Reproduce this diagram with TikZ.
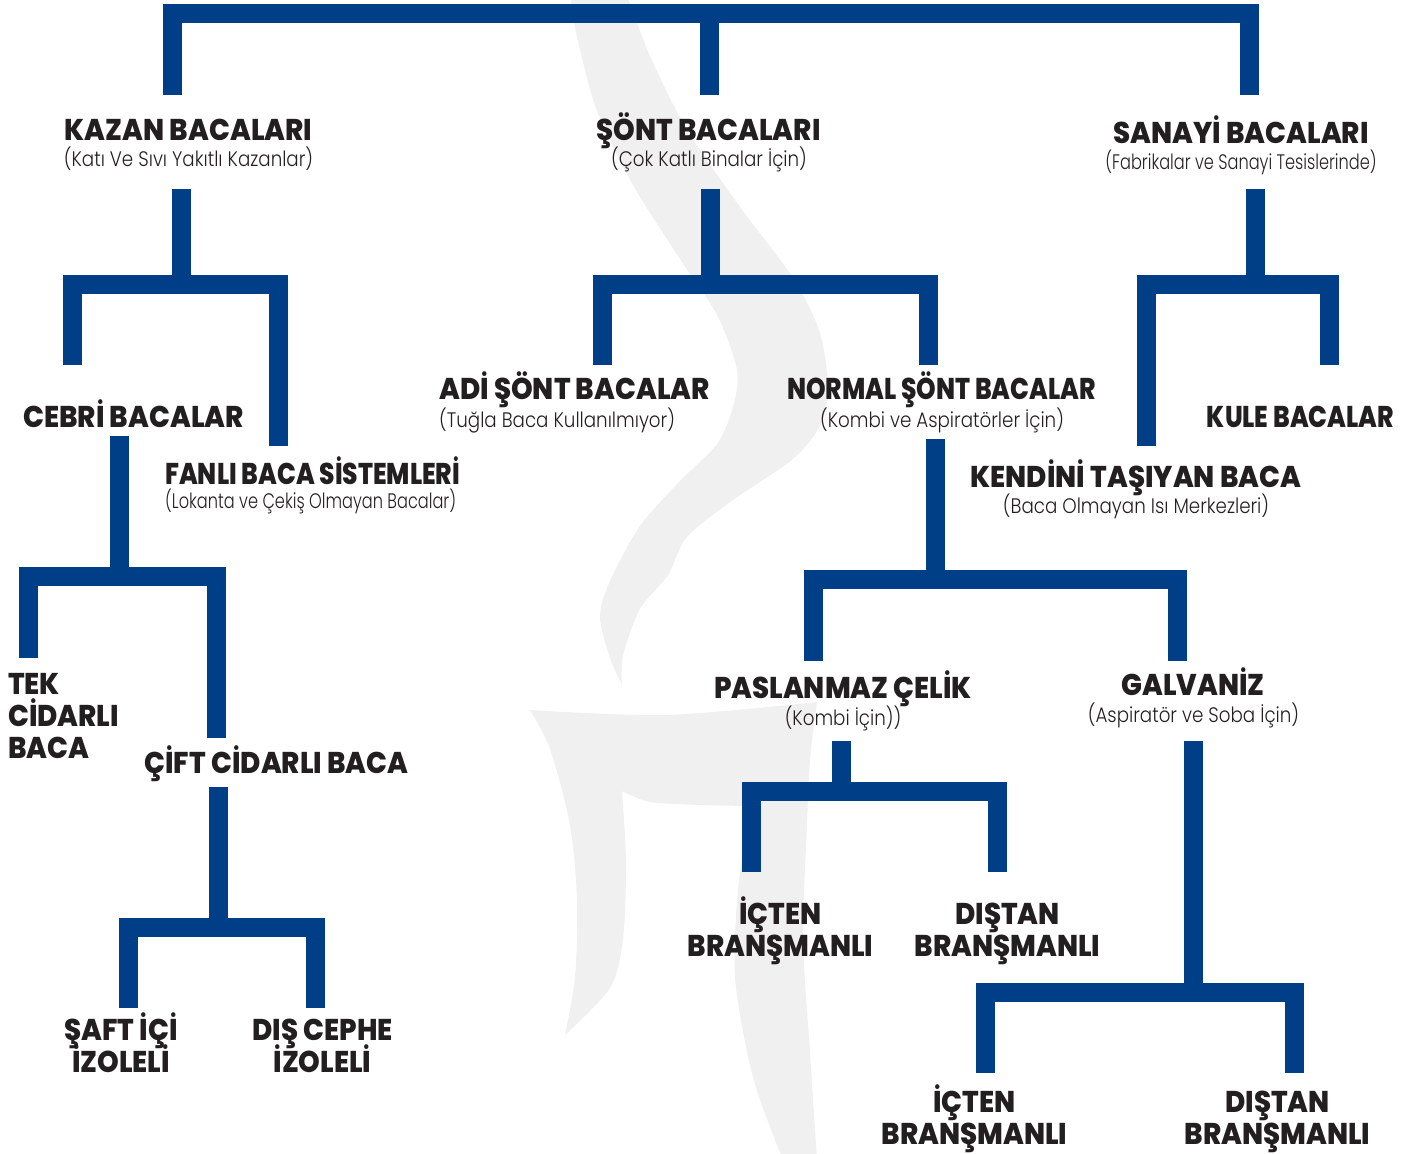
\documentclass[tikz,border=0pt]{standalone}
\usepackage{fontspec}
\setmainfont{Poppins}
\newfontfamily\headfont{Poppins ExtraBold}[FakeStretch=0.92]
\newfontfamily\headnarrow{Poppins ExtraBold}[FakeStretch=0.83]
\newfontfamily\subfont{Poppins Light}[FakeStretch=0.87]
\newfontfamily\subnarrow{Poppins Light}[FakeStretch=0.77]
\newcommand\headsize{\fontsize{30}{32}\selectfont\lineskiplimit=-50pt\relax}
\usepackage{xcolor}
\definecolor{barblue}{HTML}{003F87}
\definecolor{ink}{HTML}{231F20}
\definecolor{wmgray}{HTML}{F0F0F0}

\begin{document}
\begin{tikzpicture}[
        x=1pt, y=-1pt,
        bar/.style={line width=19pt, draw=barblue},
        head/.style={font=\headfont\headsize, text=ink, inner sep=0pt, anchor=base},
        headn/.style={head, font=\headnarrow\headsize},
        sub/.style={font=\subfont\fontsize{21}{24}\selectfont, text=ink, inner sep=0pt, anchor=base},
        subn/.style={sub, font=\subnarrow\fontsize{21}{24}\selectfont},
        wm/.style={fill=wmgray},
    ]
        \useasboundingbox (0,0) rectangle (1422,1154);

        % watermark
        \fill[wm] plot[smooth] coordinates {(570,-5) (577,37) (597,111) (633,185) (680,259) (717,315) (737,370) (733,407) (717,444) (680,481) (640,526) (610,581) (600,617) (610,658) (622,685)}
            -- plot[smooth] coordinates {(622,685) (623,655) (640,609) (668,575) (687,537) (733,500) (793,459) (820,426) (828,389) (820,333) (793,278) (740,207) (687,130) (650,56) (627,-5)} -- cycle;
        \fill[wm] plot[smooth] coordinates {(530,710) (667,715) (817,702)}
            -- plot[smooth] coordinates {(817,702) (810,760) (807,825) (803,939) (810,1052) (817,1160)}
            -- (783,1160)
            -- plot[smooth] coordinates {(783,1160) (760,1100) (747,1052) (735,977) (737,901) (745,840) (753,806)}
            -- plot[smooth] coordinates {(753,806) (700,805) (650,802) (622,791)}
            -- plot[smooth] coordinates {(622,791) (626,863) (623,939) (610,988) (565,1035)}
            -- plot[smooth] coordinates {(565,1035) (575,977) (577,901) (570,825) (550,749) (530,710)} -- cycle;

        % level 1
        \node[head] (kazan) at (188.5,140) {KAZAN BACALARI};
        \node[sub] (kazanSub) at (188.5,166) {(Katı Ve Sıvı Yakıtlı Kazanlar)};
        \node[head] (sont) at (708.5,140) {ŞÖNT BACALARI};
        \node[sub] (sontSub) at (709,166) {(Çok Katlı Binalar İçin)};
        \node[head] (sanayi) at (1241,143) {SANAYİ BACALARI};
        \node[subn] (sanayiSub) at (1241,169) {(Fabrikalar ve Sanayi Tesislerinde)};

        % level 2
        \node[head] (cebri) at (133.5,427) {CEBRİ BACALAR};
        \node[headn, anchor=base west] (fanli) at (165,484) {FANLI BACA SİSTEMLERİ};
        \node[subn, anchor=base west] (fanliSub) at (165,508) {(Lokanta ve Çekiş Olmayan Bacalar)};
        \node[head, anchor=base west] (adi) at (439,399) {ADİ ŞÖNT BACALAR};
        \node[sub, anchor=base west] (adiSub) at (439,427) {(Tuğla Baca Kullanılmıyor)};
        \node[headn] (normal) at (941.5,399) {NORMAL ŞÖNT BACALAR};
        \node[sub] (normalSub) at (942,427) {(Kombi ve Aspiratörler İçin)};
        \node[headn] (kule) at (1300.5,427) {KULE BACALAR};
        \node[head] (kendini) at (1136,487) {KENDİNİ TAŞIYAN BACA};
        \node[sub] (kendiniSub) at (1136,513) {(Baca Olmayan Isı Merkezleri)};

        % level 3
        \node[head, anchor=base west, align=left] (tek) at (8,758) {TEK\\CİDARLI\\BACA};
        \node[head] (cift) at (276.5,773) {ÇİFT CİDARLI BACA};
        \node[head] (paslanmaz) at (843,698) {PASLANMAZ ÇELİK};
        \node[sub] (paslanmazSub) at (843,725) {(Kombi İçin))};
        \node[head] (galvaniz) at (1193,695) {GALVANİZ};
        \node[sub] (galvanizSub) at (1193.5,722) {(Aspiratör ve Soba İçin)};

        % level 4
        \node[head, align=center] (saft) at (121,1072) {ŞAFT İÇİ\\İZOLELİ};
        \node[head, align=center] (dis) at (322.5,1072) {DIŞ CEPHE\\İZOLELİ};
        \node[head, align=center] (icten) at (780.5,956) {İÇTEN\\BRANŞMANLI};
        \node[head, align=center] (distan) at (1007.5,956) {DIŞTAN\\BRANŞMANLI};
        \node[head, align=center] (icten2) at (974.5,1144) {İÇTEN\\BRANŞMANLI};
        \node[head, align=center] (distan2) at (1277.5,1144) {DIŞTAN\\BRANŞMANLI};

        % connector ends
        \coordinate (root) at (709.5,13.5);
        \coordinate (kazan-in) at (172.5,95);
        \coordinate (sont-in) at (709.5,95);
        \coordinate (sanayi-in) at (1249.5,95);
        \coordinate (kazan-out) at (181,189);
        \coordinate (kazan-j) at (181,284.5);
        \coordinate (cebri-in) at (72.5,365);
        \coordinate (fanli-in) at (278,446);
        \coordinate (sont-out) at (710.5,189);
        \coordinate (sont-j) at (710.5,284.5);
        \coordinate (adi-in) at (602.5,365);
        \coordinate (normal-in) at (928.5,365);
        \coordinate (sanayi-out) at (1255,189);
        \coordinate (sanayi-j) at (1255,284.5);
        \coordinate (kendini-in) at (1146.5,446);
        \coordinate (kule-in) at (1329.5,365);
        \coordinate (cebri-out) at (119.5,436);
        \coordinate (cebri-j) at (119.5,576.5);
        \coordinate (tek-in) at (28.5,658);
        \coordinate (cift-in) at (216.5,738);
        \coordinate (cift-out) at (218.5,787);
        \coordinate (cift-j) at (218.5,927.5);
        \coordinate (saft-in) at (128.5,1008);
        \coordinate (dis-in) at (315.5,1008);
        \coordinate (normal-out) at (935,439);
        \coordinate (normal-j) at (935,579.5);
        \coordinate (paslanmaz-in) at (813.5,661);
        \coordinate (galvaniz-in) at (1177.5,661);
        \coordinate (paslanmaz-out) at (841,741);
        \coordinate (paslanmaz-j) at (841,791.5);
        \coordinate (icten-in) at (751.5,872);
        \coordinate (distan-in) at (997,872);
        \coordinate (galvaniz-out) at (1193,741);
        \coordinate (galvaniz-j) at (1193,992.5);
        \coordinate (icten2-in) at (985.5,1073);
        \coordinate (distan2-in) at (1294.5,1073);

        % connectors
        \draw[bar] (kazan-in) -- (kazan-in |- root) -- (sanayi-in |- root) -- (sanayi-in);
        \draw[bar] (sont-in) -- (root);

        \draw[bar] (kazan-out) -- (kazan-j);
        \draw[bar] (cebri-in) -- (cebri-in |- kazan-j) -- (fanli-in |- kazan-j) -- (fanli-in);
        \draw[bar] (sont-out) -- (sont-j);
        \draw[bar] (adi-in) -- (adi-in |- sont-j) -- (normal-in |- sont-j) -- (normal-in);
        \draw[bar] (sanayi-out) -- (sanayi-j);
        \draw[bar] (kendini-in) -- (kendini-in |- sanayi-j) -- (kule-in |- sanayi-j) -- (kule-in);

        \draw[bar] (cebri-out) -- (cebri-j);
        \draw[bar] (tek-in) -- (tek-in |- cebri-j) -- (cift-in |- cebri-j) -- (cift-in);
        \draw[bar] (cift-out) -- (cift-j);
        \draw[bar] (saft-in) -- (saft-in |- cift-j) -- (dis-in |- cift-j) -- (dis-in);

        \draw[bar] (normal-out) -- (normal-j);
        \draw[bar] (paslanmaz-in) -- (paslanmaz-in |- normal-j) -- (galvaniz-in |- normal-j) -- (galvaniz-in);
        \draw[bar] (paslanmaz-out) -- (paslanmaz-j);
        \draw[bar] (icten-in) -- (icten-in |- paslanmaz-j) -- (distan-in |- paslanmaz-j) -- (distan-in);
        \draw[bar] (galvaniz-out) -- (galvaniz-j);
        \draw[bar] (icten2-in) -- (icten2-in |- galvaniz-j) -- (distan2-in |- galvaniz-j) -- (distan2-in);
    \end{tikzpicture}
\end{document}
